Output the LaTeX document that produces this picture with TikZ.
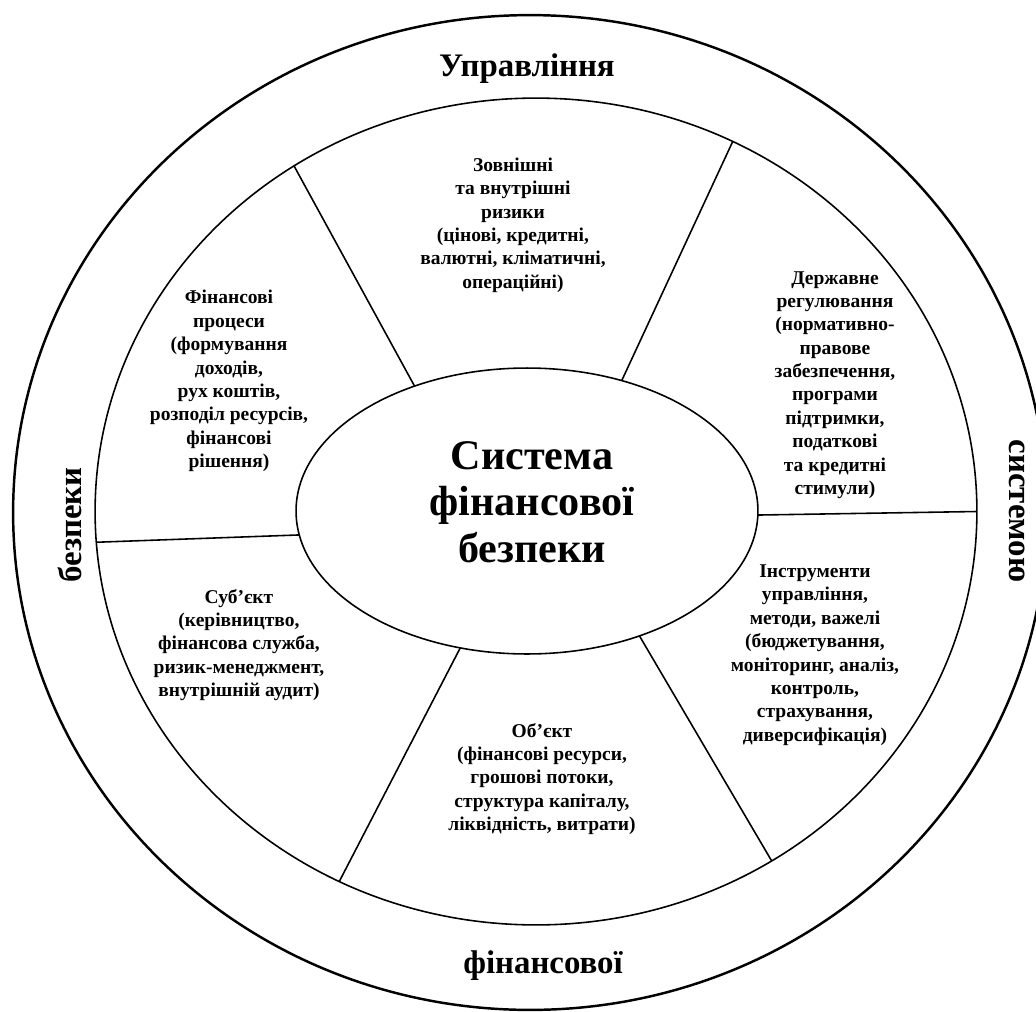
\documentclass[tikz,border=0pt]{standalone}
\usepackage{fontspec}
\setmainfont{Liberation Serif}
\usetikzlibrary{shapes.geometric}

\begin{document}
\begin{tikzpicture}[x=0.02cm, y=-0.02cm,
  ring/.style={draw, ellipse, inner sep=0pt, outer sep=0pt},
  sector/.style={align=center, font=\bfseries\fontsize{11.1}{13.3}\selectfont},
  rim/.style={font=\bfseries\fontsize{18.7}{22}\selectfont, inner sep=0pt},
  spoke/.style={line width=0.9pt}]

\useasboundingbox (0,0) rectangle (1036,1012);

%% rings
\node[ring, line width=1.4pt, minimum width=20.68cm, minimum height=19.9cm] (outer) at (530,512.5) {};
\node[ring, line width=0.9pt, minimum width=17.64cm, minimum height=16.54cm] (inner) at (536,511.5) {};
\node[ring, line width=0.9pt, minimum width=9.24cm, minimum height=5.72cm] (core) at (527,511) {};

%% spokes
\draw[spoke] (core.132.6) -- (inner.125.4);
\draw[spoke] (core.54.2) -- (inner.62.2);
\draw[spoke] (core.-1.5) -- (inner.-0.7);
\draw[spoke] (core.-48.9) -- (inner.-56);
\draw[spoke] (core.-116.2) -- (inner.-118);
\draw[spoke] (core.-174.1) -- (inner.-176.9);

%% centre
\node[align=center, font=\bfseries\fontsize{24}{26.6}\selectfont] (title) at (532,502)
  {Система\\фінансової\\безпеки};

%% sectors
\node[sector] (risks) at (513,225)
  {Зовнішні\\та внутрішні\\ризики\\(цінові, кредитні,\\валютні, кліматичні,\\операційні)};
\node[sector] (regulation) at (835,385)
  {Державне\\регулювання\\(нормативно-\\правове\\забезпечення,\\програми\\підтримки,\\податкові\\та кредитні\\стимули)};
\node[sector] (tools) at (815,655)
  {Інструменти\\управління,\\методи, важелі\\(бюджетування,\\моніторинг, аналіз,\\контроль,\\страхування,\\диверсифікація)};
\node[sector] (object) at (542,779)
  {Об’єкт\\(фінансові ресурси,\\грошові потоки,\\структура капіталу,\\ліквідність, витрати)};
\node[sector] (subject) at (239,645)
  {Суб’єкт\\(керівництво,\\фінансова служба,\\ризик-менеджмент,\\внутрішній аудит)};
\node[sector] (processes) at (229,381)
  {Фінансові\\процеси\\(формування\\доходів,\\рух коштів,\\розподіл ресурсів,\\фінансові\\рішення)};

%% outer band
\node[rim] (mgmt) at (527,69) {Управління};
\node[rim, rotate=-90] (syst) at (1017,511) {системою};
\node[rim] (fin) at (543,966) {фінансової};
\node[rim, rotate=90] (secur) at (70,525) {безпеки};

\end{tikzpicture}
\end{document}
